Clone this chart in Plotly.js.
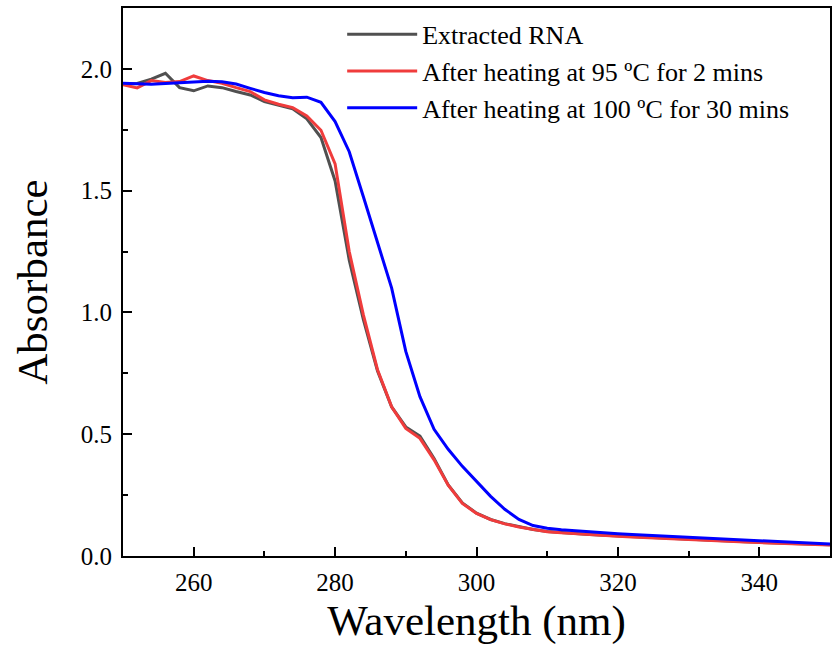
<!DOCTYPE html>
<html>
<head>
<meta charset="utf-8">
<script src="https://cdn.plot.ly/plotly-3.0.1.min.js"></script>
<style>html,body{margin:0;padding:0;background:#fff;}#chart{width:832px;height:657px;}</style>
</head>
<body>
<div id="chart"></div>
<script>
const wavelength = [250,252,254,256,258,260,262,264,266,268,270,272,274,276,278,280,282,284,286,288,290,292,294,296,298,300,302,304,306,308,310,312,314,316,318,320,322,324,326,328,330,332,334,336,338,340,342,344,346,348,350];
const extractedRNA = [1.937,1.940,1.958,1.982,1.923,1.910,1.930,1.923,1.907,1.893,1.866,1.852,1.836,1.795,1.718,1.540,1.215,0.970,0.760,0.612,0.530,0.492,0.400,0.292,0.218,0.176,0.150,0.133,0.120,0.109,0.101,0.096,0.092,0.088,0.085,0.082,0.079,0.076,0.073,0.070,0.068,0.065,0.063,0.061,0.058,0.056,0.054,0.052,0.050,0.048,0.046];
const heated95 = [1.935,1.922,1.952,1.944,1.948,1.971,1.952,1.941,1.923,1.907,1.873,1.855,1.841,1.807,1.748,1.610,1.250,0.990,0.765,0.613,0.524,0.483,0.395,0.291,0.216,0.175,0.149,0.132,0.119,0.108,0.100,0.095,0.091,0.087,0.084,0.081,0.078,0.075,0.072,0.069,0.067,0.064,0.062,0.060,0.057,0.055,0.053,0.051,0.049,0.047,0.045];
const heated100 = [1.941,1.940,1.937,1.940,1.944,1.947,1.949,1.947,1.938,1.920,1.903,1.890,1.882,1.884,1.863,1.784,1.660,1.475,1.290,1.100,0.840,0.654,0.520,0.438,0.368,0.305,0.245,0.192,0.150,0.125,0.114,0.108,0.103,0.099,0.095,0.091,0.088,0.085,0.082,0.079,0.076,0.073,0.070,0.067,0.064,0.061,0.059,0.056,0.054,0.051,0.049];
const seriesNames = ['Extracted RNA','After heating at 95 ºC for 2 mins','After heating at 100 ºC for 30 mins'];
const xTickVals = [260,280,300,320,340];
const yTickVals = [0,0.5,1.0,1.5,2.0];
const yTickText = ['0.0','0.5','1.0','1.5','2.0'];

const colors = ['#505050','#f03c3c','#0000ff'];
const ys = [extractedRNA, heated95, heated100];
const traces = ys.map((y,i)=>({
  x: wavelength, y: y, type:'scatter', mode:'lines', name: seriesNames[i],
  line:{color:colors[i], width:3}
}));
const font = 'Liberation Serif';
const layout = {
  width:832, height:657,
  margin:{l:123, r:2, t:8, b:101},
  paper_bgcolor:'#fff', plot_bgcolor:'#fff',
  font:{family:font, color:'#000', size:25},
  showlegend:true,
  legend:{x:0.31, y:0.995, xanchor:'left', yanchor:'top', bgcolor:'rgba(0,0,0,0)', borderwidth:0,
    font:{family:font, size:26, color:'#000'}, itemwidth:70, tracegroupgap:0},
  xaxis:{range:[250,350], tickmode:'array', tickvals:xTickVals, ticks:'inside', ticklen:9, tickwidth:2, tickcolor:'#000',
    showline:true, mirror:true, linecolor:'#000', linewidth:2, showgrid:false, zeroline:false,
    tickfont:{family:font, size:25, color:'#000'}, ticklabelstandoff:3,
    minor:{dtick:10, tick0:250, ticks:'inside', ticklen:5, tickwidth:2, tickcolor:'#000', showgrid:false},
    title:{text:'Wavelength (nm)', font:{family:font, size:43, color:'#000'}, standoff:10}},
  yaxis:{range:[0,2.25], tickmode:'array', tickvals:yTickVals, ticktext:yTickText, ticks:'inside', ticklen:9, tickwidth:2, tickcolor:'#000',
    showline:true, mirror:true, linecolor:'#000', linewidth:2, showgrid:false, zeroline:false,
    tickfont:{family:font, size:25, color:'#000'}, ticklabelstandoff:4,
    minor:{dtick:0.25, tick0:0, ticks:'inside', ticklen:5, tickwidth:2, tickcolor:'#000', showgrid:false},
    title:{text:'Absorbance', font:{family:font, size:43, color:'#000'}, standoff:20}}
};
Plotly.newPlot('chart', traces, layout, {displayModeBar:false, staticPlot:true});
</script>
</body>
</html>
